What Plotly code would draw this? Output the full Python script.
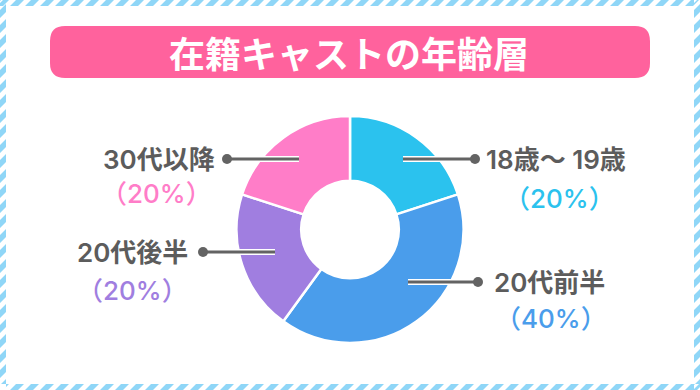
import plotly.graph_objects as go

# ---- data ----
categories = ["18歳〜 19歳", "20代前半", "20代後半", "30代以降"]
values = [20, 40, 20, 20]
pct_labels = ["（20%）", "（40%）", "（20%）", "（20%）"]
colors = ["#2bc2ee", "#4a9deb", "#a07ee0", "#ff7dc8"]
title_text = "在籍キャストの年齢層"

W, H = 700, 390
FONT = "Noto Sans CJK JP"
LFONT = "Inter, Noto Sans CJK JP"
GRAY = "#5c5c5c"

# donut geometry (pixels)
cx, cy, R = 350, 229.5, 113.5

fig = go.Figure()
fig.add_trace(go.Pie(
    labels=categories, values=values, sort=False, direction="clockwise", rotation=0,
    hole=0.43, marker=dict(colors=colors, line=dict(color="white", width=2.5)),
    textinfo="none", hoverinfo="label+percent", showlegend=False,
    domain=dict(x=[(cx - R) / W, (cx + R) / W], y=[(H - cy - R) / H, (H - cy + R) / H]),
))

shapes = []
# striped border
STRIPE = "#8fd6f7"
P, SW, T = 15, 8, 6
paths = []
for y0 in (0, H - T):
    a = -20
    while a < W + 20:
        paths.append(f"M{a},{y0+T} L{a+SW},{y0+T} L{a+SW+T},{y0} L{a+T},{y0} Z")
        a += P
for x0 in (0, W - T):
    b = -20
    while b < H + 20:
        paths.append(f"M{x0},{b} L{x0},{b+SW} L{x0+T},{b+SW-T} L{x0+T},{b-T} Z")
        b += P
shapes.append(dict(type="path", path=" ".join(paths), xref="x", yref="y",
                   fillcolor=STRIPE, line=dict(width=0), layer="below"))
shapes.append(dict(type="rect", x0=T, x1=W - T, y0=T, y1=H - T, xref="x", yref="y",
                   fillcolor="white", line=dict(width=0), layer="below"))

# title bar (rounded)
x0, x1, y0, y1, r = 50, 650, 26, 78, 15
shapes.append(dict(type="path", xref="x", yref="y", fillcolor="#ff629d", line=dict(width=0), layer="below",
                   path=(f"M{x0+r},{y0} L{x1-r},{y0} Q{x1},{y0} {x1},{y0+r} L{x1},{y1-r} Q{x1},{y1} {x1-r},{y1} "
                         f"L{x0+r},{y1} Q{x0},{y1} {x0},{y1-r} L{x0},{y0+r} Q{x0},{y0} {x0+r},{y0} Z")))

# leader lines: (x_start, x_end(dot), y)
leaders = [(403, 475, 159), (408, 478, 282), (275, 203, 252), (299, 227, 159)]
for xs, xe, yl in leaders:
    shapes.append(dict(type="line", x0=xs, x1=xe, y0=yl, y1=yl, xref="x", yref="y",
                       line=dict(color="white", width=6), layer="above"))
for xs, xe, yl in leaders:
    shapes.append(dict(type="line", x0=xs, x1=xe, y0=yl, y1=yl, xref="x", yref="y",
                       line=dict(color="#636363", width=3), layer="above"))
    shapes.append(dict(type="circle", x0=xe - 5, x1=xe + 5, y0=yl - 5, y1=yl + 5, xref="x", yref="y",
                       fillcolor="#636363", line=dict(width=0), layer="above"))

annotations = [dict(x=349, y=52, text=title_text, showarrow=False, xref="x", yref="y",
                    font=dict(family=FONT, size=36, color="white", weight="bold"))]

# label placements: name (x, y, anchor), percent center (x, y)
placements = [
    ((485, 159, "left"), (559, 198)),
    ((493, 282, "left"), (551, 318)),
    ((189, 252, "right"), (132, 290)),
    ((216, 159, "right"), (156, 193)),
]
for cat, pct, col, ((nx, ny, anc), (px, py)) in zip(categories, pct_labels, colors, placements):
    annotations.append(dict(x=nx, y=ny, text=cat, showarrow=False, xref="x", yref="y",
                            xanchor=anc, yanchor="middle", borderpad=0,
                            font=dict(family=LFONT, size=26, color=GRAY, weight=600)))
    annotations.append(dict(x=px, y=py, text=pct, showarrow=False, xref="x", yref="y",
                            xanchor="center", yanchor="middle", borderpad=0,
                            font=dict(family=LFONT, size=26, color=col, weight=500)))

fig.update_layout(
    width=W, height=H, margin=dict(l=0, r=0, t=0, b=0),
    paper_bgcolor="white", plot_bgcolor="rgba(0,0,0,0)",
    xaxis=dict(range=[0, W], visible=False, fixedrange=True),
    yaxis=dict(range=[H, 0], visible=False, fixedrange=True),
    shapes=shapes, annotations=annotations,
)
fig.write_html("out.html", config={"displayModeBar": False},
               post_script="document.body.style.margin='0';document.body.style.overflow='hidden';")
